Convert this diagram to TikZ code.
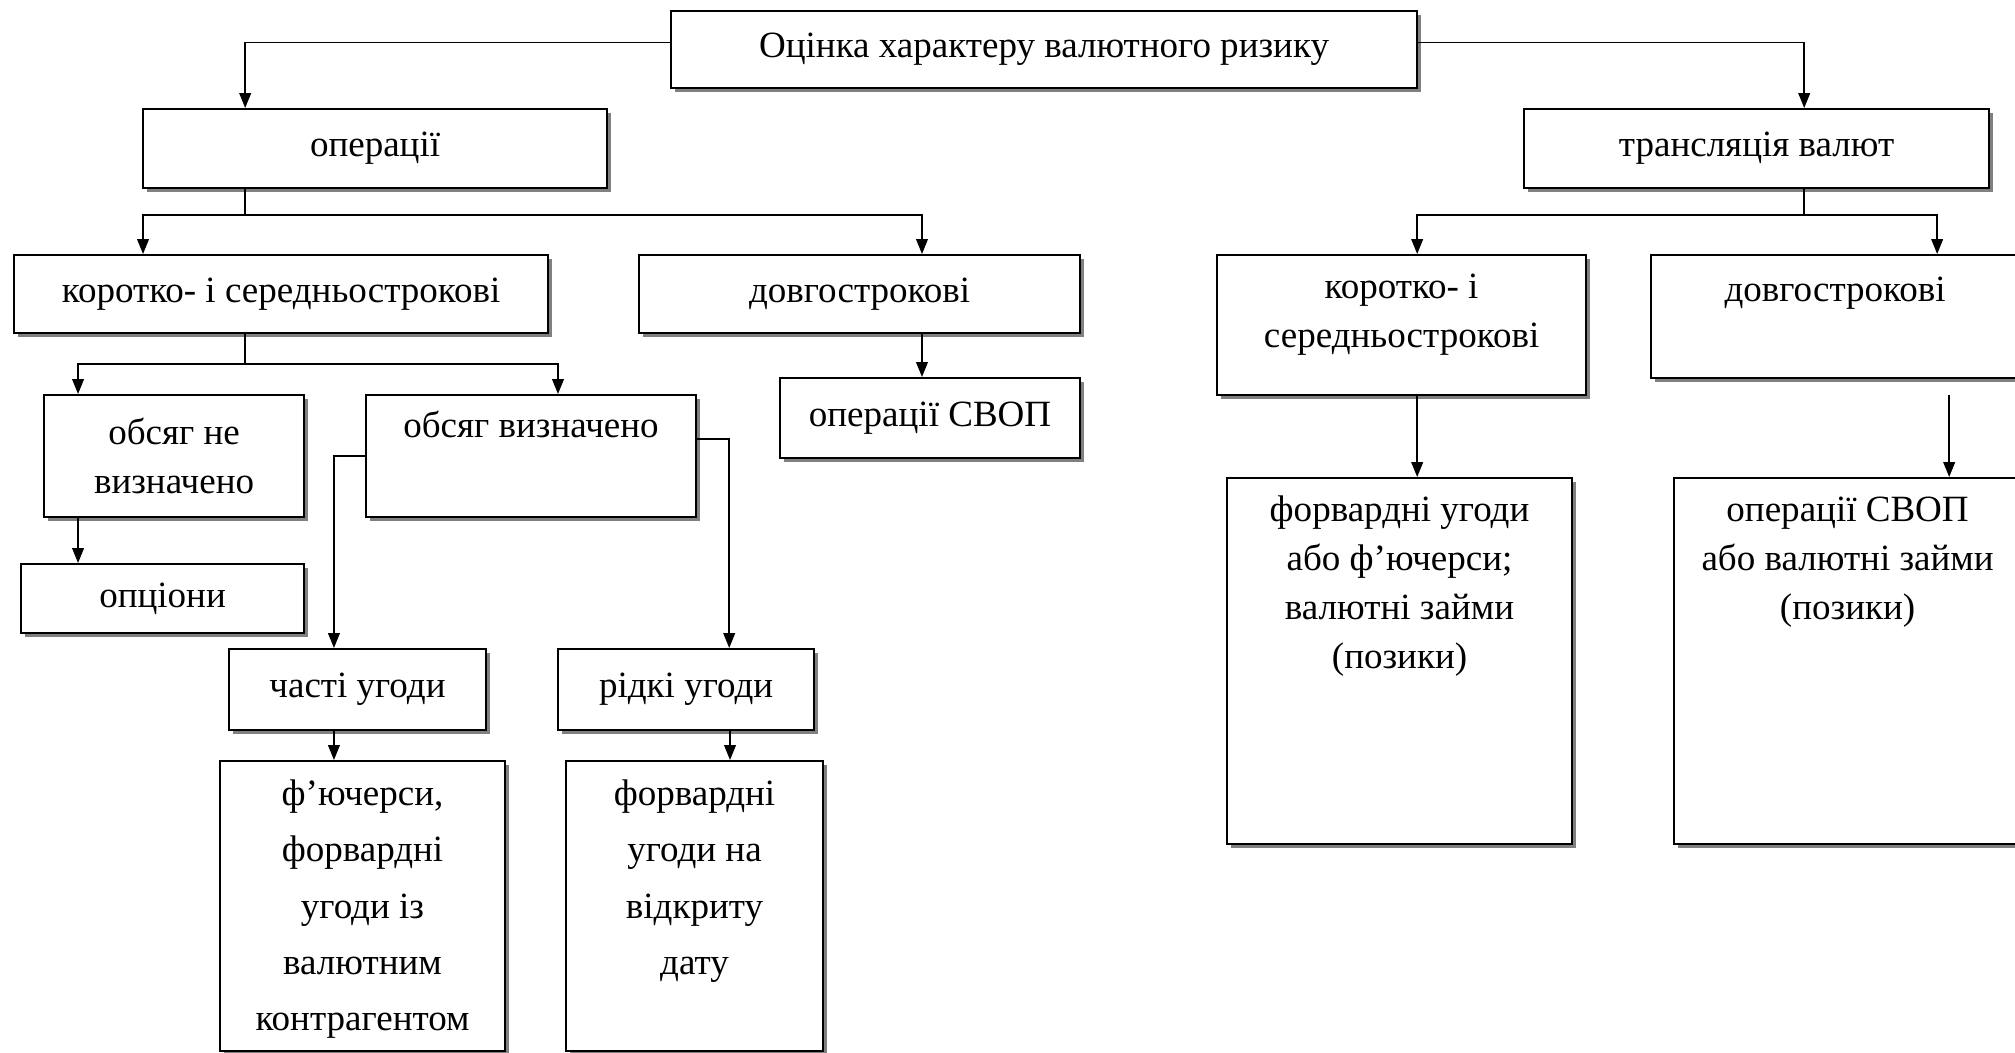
\documentclass[tikz,border=0pt]{standalone}
\usepackage{fontspec}
\setmainfont{Liberation Serif}
\usetikzlibrary{positioning,shadows,arrows.meta}

\begin{document}
\begin{tikzpicture}[x=0.378pt, y=-0.378pt,
	blk/.style={draw, line width=0.8pt, fill=white, anchor=north west, inner sep=0pt, align=center,
		drop shadow={shadow xshift=1.5pt, shadow yshift=-1.5pt, fill=black!50, opacity=1},
		font=\fontsize{14pt}{18.5pt}\selectfont},
	txt/.style={inner sep=0pt, align=center, font=\fontsize{14pt}{18.5pt}\selectfont},
	wide/.style={txt, font=\fontsize{14pt}{21.2pt}\selectfont},
	con/.style={line width=0.6pt},
	arr/.style={line width=0.6pt, -{Triangle[width=4.4pt,length=5.6pt]}}]
	\useasboundingbox (0,0) rectangle (2015,1053);
	\clip (0,0) rectangle (2015,1053);

	% top level
	\node[blk, minimum width=282pt, minimum height=29.1pt] (top) at (670,10) {Оцінка характеру валютного ризику};
	\node[blk, minimum width=175.4pt, minimum height=29.9pt] (opr) at (142,108) {операції};
	\node[blk, minimum width=175.8pt, minimum height=29.9pt] (trn) at (1523,108) {трансляція валют};

	% operations
	\node[blk, minimum width=201.9pt, minimum height=29.5pt] (kor) at (13,254) {коротко- і середньострокові};
	\node[blk, minimum width=166.7pt, minimum height=29.5pt] (dov) at (638,254) {довгострокові};
	\node[blk, minimum width=113.4pt, minimum height=30.2pt] (swp) at (779,377) {операції СВОП};
	\node[blk, minimum width=98.3pt, minimum height=46.1pt] (ob1) at (43,394) {обсяг не\\визначено};
	\node[blk, minimum width=124.7pt, minimum height=46.1pt] (ob2) at (365,394) {};
	\node[txt, below=3.4pt of ob2.north] (ob2t) {\strut обсяг визначено};
	\node[blk, minimum width=107pt, minimum height=26.1pt] (opc) at (20,563) {опціони};
	\node[blk, minimum width=97.1pt, minimum height=30.6pt] (cha) at (228,648) {часті угоди};
	\node[blk, minimum width=96.8pt, minimum height=30.6pt] (rid) at (557,648) {рідкі угоди};
	\node[blk, minimum width=107.7pt, minimum height=109.6pt] (fut) at (219,760) {};
	\node[wide, below=2.3pt of fut.north] (futt) {\strut ф’ючерси,\\форвардні\\угоди із\\валютним\\контрагентом};
	\node[blk, minimum width=97.1pt, minimum height=109.6pt] (fwd) at (565,760) {};
	\node[wide, below=2.3pt of fwd.north] (fwdt) {\strut форвардні\\угоди на\\відкриту\\дату};

	% translation
	\node[blk, minimum width=139.5pt, minimum height=52.9pt] (rkor) at (1216,254) {};
	\node[txt, below=3.8pt of rkor.north] (rkort) {\strut коротко- і\\середньострокові};
	\node[blk, minimum width=139.1pt, minimum height=46.5pt] (rdov) at (1650,254) {};
	\node[txt, below=4.8pt of rdov.north] (rdovt) {\strut довгострокові};
	\node[blk, minimum width=130.4pt, minimum height=138.3pt] (rfwd) at (1226,477) {};
	\node[txt, below=3.8pt of rfwd.north] (rfwdt) {\strut форвардні угоди\\або ф’ючерси;\\валютні займи\\(позики)};
	\node[blk, minimum width=131.2pt, minimum height=138.3pt] (rswp) at (1673,477) {};
	\node[txt, below=3.8pt of rswp.north] (rswpt) {\strut операції СВОП\\або валютні займи\\(позики)};

	\draw[arr] ([yshift=2.6pt]top.west) -| ([xshift=-49.1pt]opr.north);
	\draw[arr] ([yshift=2.6pt]top.east) -| ([xshift=18pt]trn.north);

	\draw[con] ([xshift=-49.1pt]opr.south) -- ++(0,26) coordinate (j1);
	\draw[arr] (j1) -| ([xshift=-52.2pt]kor.north);
	\draw[arr] (j1) -| ([xshift=23.6pt]dov.north);
	\coordinate (d1) at ([xshift=23.6pt]dov.south);
	\draw[arr] (d1) -- (d1 |- swp.north);

	\draw[con] ([xshift=-13.6pt]kor.south) -- ++(0,30) coordinate (j2);
	\draw[arr] (j2) -| ([xshift=-36.3pt]ob1.north);
	\draw[arr] (j2) -| ([xshift=10.2pt]ob2.north);
	\coordinate (o1) at ([xshift=-36.3pt]ob1.south);
	\draw[arr] (o1) -- (o1 |- opc.north);
	\draw[arr] (ob2.west) -| ([xshift=-8.9pt]cha.north);
	\draw[arr] ([yshift=6.4pt]ob2.east) -| ([xshift=16.3pt]rid.north);
	\coordinate (c1) at ([xshift=-8.9pt]cha.south);
	\draw[arr] (c1) -- (c1 |- fut.north);
	\coordinate (r1) at ([xshift=16.6pt]rid.south);
	\draw[arr] (r1) -- (r1 |- fwd.north);

	\draw[con] ([xshift=18pt]trn.south) -- ++(0,26) coordinate (j3);
	\draw[arr] (j3) -| ([xshift=5.9pt]rkor.north);
	\draw[arr] (j3) -| ([xshift=38.6pt]rdov.north);
	\coordinate (k1) at ([xshift=5.9pt]rkor.south);
	\draw[arr] (k1) -- (k1 |- rfwd.north);
	\coordinate (s0) at ([yshift=-6pt]rdov.south);
	\coordinate (s1) at ([xshift=38.4pt]rswp.north);
	\draw[arr] (s1 |- s0) -- (s1);
\end{tikzpicture}
\end{document}
